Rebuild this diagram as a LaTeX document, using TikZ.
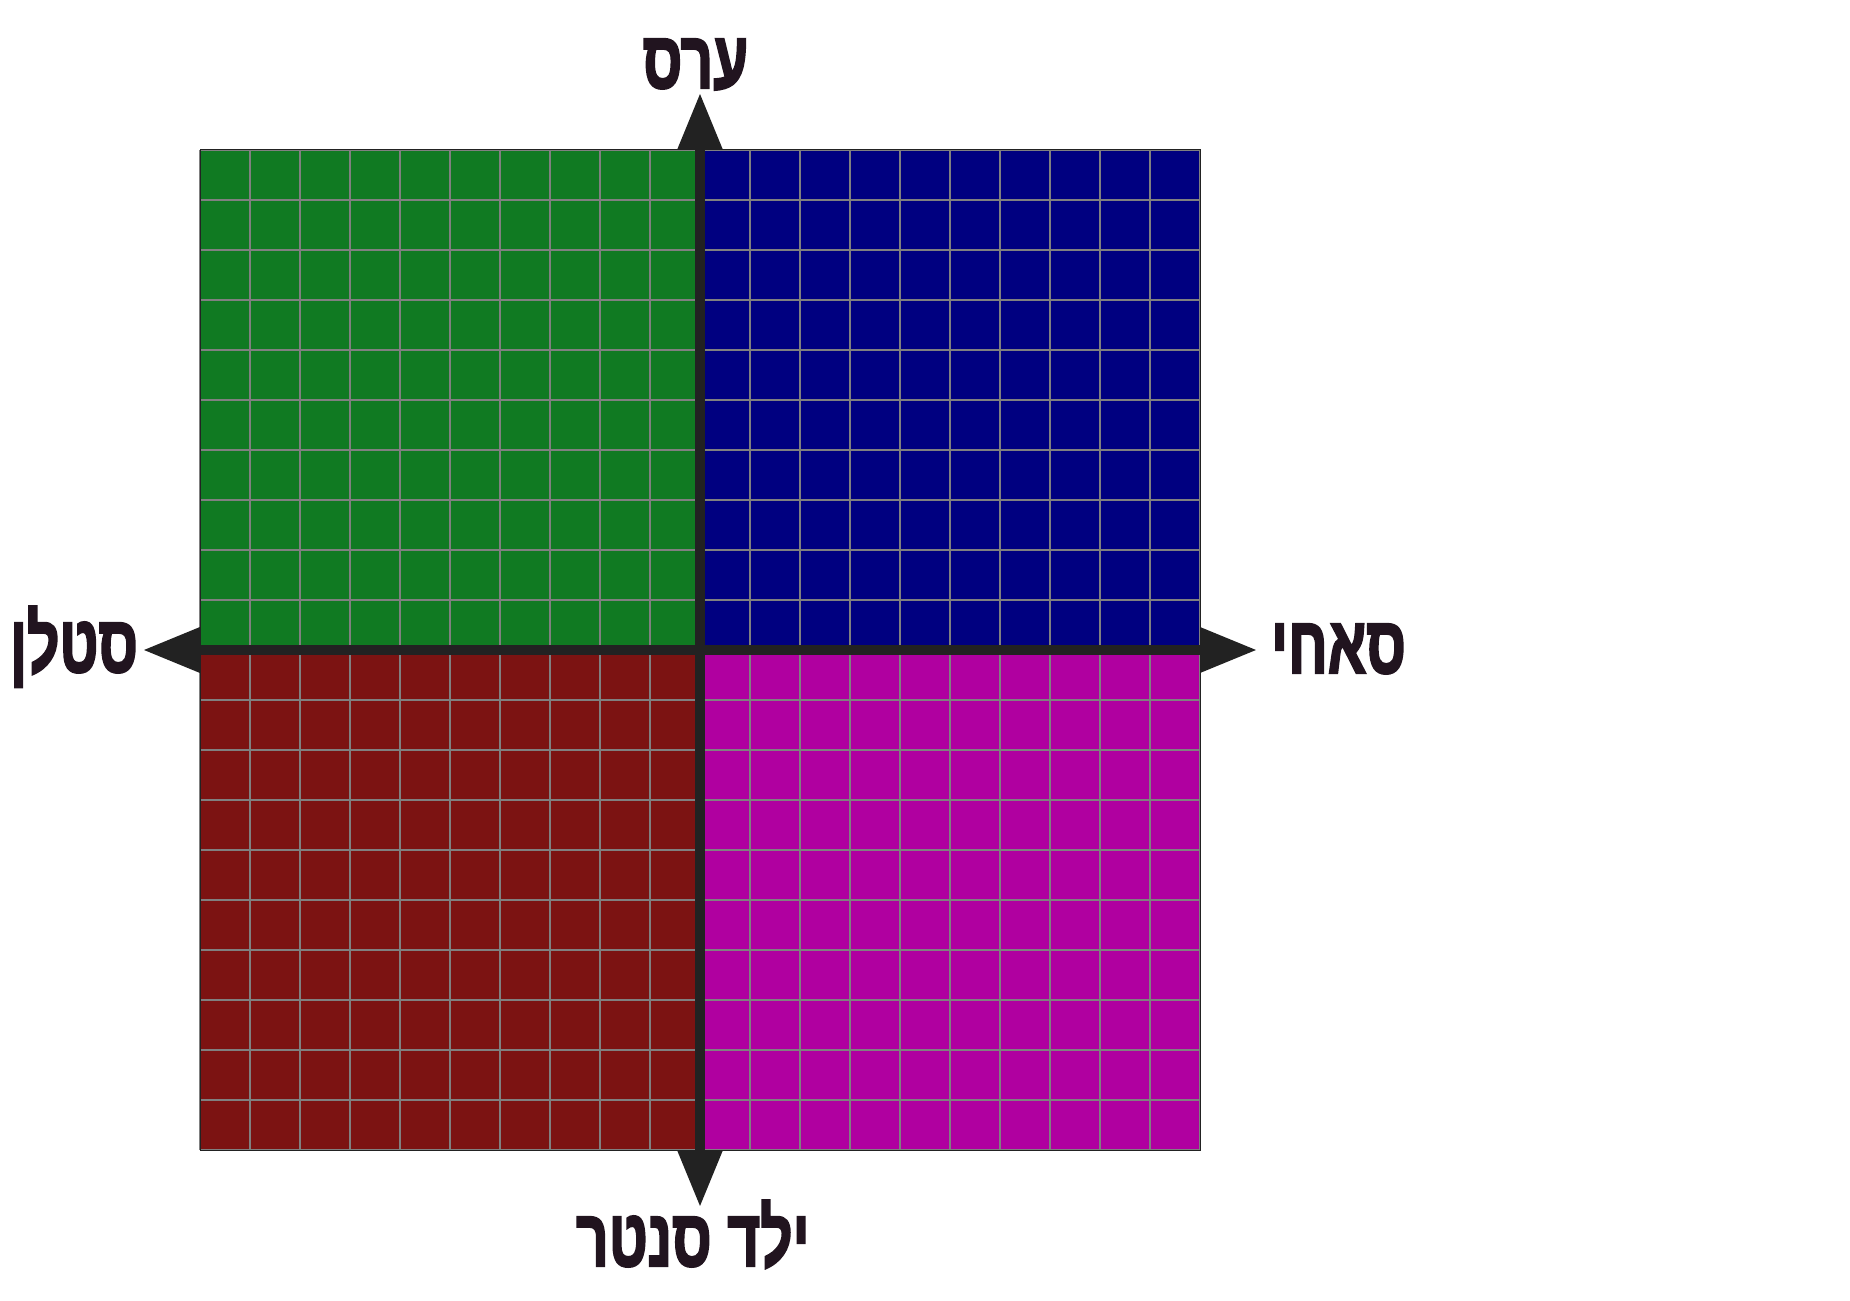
\documentclass[tikz,border=0pt]{standalone}
\usepackage{fontspec}
\newfontfamily\hebfont[Script=Hebrew,BoldFeatures={FakeBold=3}]{Liberation Sans}
\TeXXeTstate=1
\usetikzlibrary{arrows.meta}
\definecolor{qgreen}{RGB}{16,122,34}
\definecolor{qblue}{RGB}{0,0,128}
\definecolor{qred}{RGB}{124,19,18}
\definecolor{qmagenta}{RGB}{176,0,160}
\definecolor{axiscol}{RGB}{34,34,34}
\definecolor{labelcol}{RGB}{33,20,31}

\begin{document}
\begin{tikzpicture}[line width=0.9pt,
  gridline/.style={line width=0.03cm,gray},
  axis/.style={line width=0.2cm,axiscol,{Triangle[length=1.14cm,width=0.86cm]}-{Triangle[length=1.14cm,width=0.86cm]}},
  axlabel/.style={font=\hebfont\bfseries\fontsize{46}{50}\selectfont,text=labelcol,inner sep=0pt,anchor=base,xscale=0.7}]
  \useasboundingbox (0,0) rectangle (37,26);
  \coordinate (O) at (14,13);
  \fill[qgreen] (4,13) rectangle (14,23);
  \fill[qblue] (14,13) rectangle (24,23);
  \fill[qred] (4,3) rectangle (14,13);
  \fill[qmagenta] (14,3) rectangle (24,13);
  \draw[gridline] (4,3) grid[step=1cm] (24,23);
  \draw[line width=0.02cm,axiscol] (4,3) rectangle (24,23);
  \coordinate (tipN) at (14,24.14);
  \coordinate (tipS) at (14,1.86);
  \coordinate (tipW) at (2.86,13);
  \coordinate (tipE) at (25.14,13);
  \draw[axis] (tipS) -- (tipN);
  \draw[axis] (tipW) -- (tipE);
  \node[axlabel] (labN) at (13.91,24.24) {\beginR ערס\endR};
  \node[axlabel] (labW) at (1.48,12.56) {\beginR סטלן\endR};
  \node[axlabel] (labE) at (26.77,12.54) {\beginR סאחי\endR};
  \node[axlabel] (labS) at (13.86,0.68) {\beginR ילד סנטר\endR};
\end{tikzpicture}
\end{document}
